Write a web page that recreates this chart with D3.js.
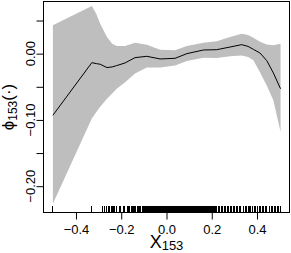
<!DOCTYPE html>
<html>
<head>
<meta charset="utf-8">
<script src="https://cdn.jsdelivr.net/npm/d3@7"></script>
<style>
  body { margin: 0; background: #fff; }
  text { font-family: "Liberation Sans", Arial, sans-serif; fill: #000; }
</style>
</head>
<body>
<div id="chart"></div>
<script>
var width = 291,
    height = 253;

// partial dependence estimate and its band
var xs    = [-0.502, -0.33, -0.31, -0.293, -0.263, -0.24, -0.22, -0.183, -0.139, -0.087, -0.028, 0.038, 0.09, 0.163, 0.222, 0.281, 0.332, 0.36, 0.384, 0.413, 0.443, 0.472, 0.504];
var fit   = [-0.093, -0.0136, -0.015, -0.016, -0.021, -0.020, -0.018, -0.014, -0.006, -0.004, -0.008, -0.007, 0.000, 0.0055, 0.006, 0.010, 0.0136, 0.011, 0.0065, 0.001, -0.0105, -0.029, -0.053];
var upper = [0.0427, 0.072, 0.060, 0.045, 0.025, 0.015, 0.0115, 0.0115, 0.0166, 0.0136, 0.006, 0.005, 0.0115, 0.0166, 0.0186, 0.025, 0.030, 0.028, 0.024, 0.018, 0.014, 0.0125, 0.015];
var lower = [-0.2266, -0.098, -0.088, -0.080, -0.068, -0.060, -0.053, -0.043, -0.030, -0.021, -0.021, -0.018, -0.011, -0.006, -0.0066, -0.004, -0.0026, -0.005, -0.010, -0.028, -0.048, -0.0705, -0.118];

// observed values of X153 (rug)
var rugX = [-0.504, -0.333, -0.283, -0.278, -0.268, -0.259, -0.253, -0.245, -0.241, -0.236, -0.231, -0.222, -0.212, -0.205, -0.193, -0.186, -0.173, -0.168, -0.164,
  -0.158, -0.153, -0.149, -0.143, -0.138, -0.131, -0.127, -0.121, -0.116, -0.110, -0.104, -0.099, -0.096, -0.093, -0.090, -0.088, -0.085, -0.082, -0.079, -0.077,
  -0.074, -0.071, -0.068, -0.066, -0.063, -0.060, -0.057, -0.055, -0.052, -0.049, -0.046, -0.044, -0.041, -0.038, -0.035, -0.033, -0.030, -0.027, -0.024,
  -0.021, -0.018, -0.016, -0.013, -0.011, -0.008, -0.005, -0.002, 0.000, 0.002, 0.004, 0.007, 0.009, 0.011, 0.013, 0.016, 0.018, 0.020, 0.022, 0.025, 0.027,
  0.029, 0.031, 0.034, 0.036, 0.038, 0.040, 0.043, 0.045, 0.047, 0.049, 0.052, 0.054, 0.056, 0.058, 0.061, 0.063, 0.065, 0.067, 0.070, 0.072, 0.074, 0.076,
  0.079, 0.081, 0.083, 0.085, 0.088, 0.090, 0.092, 0.094, 0.097, 0.099, 0.101, 0.103, 0.106, 0.108, 0.110, 0.112, 0.115, 0.117, 0.119, 0.121, 0.124, 0.126,
  0.129, 0.131, 0.134, 0.136, 0.139, 0.141, 0.144, 0.147, 0.150, 0.152, 0.155, 0.158, 0.161, 0.164, 0.167, 0.170, 0.173, 0.176, 0.179, 0.182, 0.185, 0.188,
  0.191, 0.195, 0.198, 0.201, 0.204, 0.207, 0.211, 0.214, 0.217, 0.220, 0.227, 0.233, 0.240, 0.247, 0.253, 0.260, 0.266, 0.273, 0.280, 0.287, 0.293,
  0.300, 0.306, 0.313, 0.319, 0.325, 0.339, 0.345, 0.352, 0.358, 0.365, 0.371, 0.378, 0.385, 0.391, 0.398, 0.408, 0.414, 0.421, 0.427, 0.434, 0.440,
  0.453, 0.460, 0.466, 0.473, 0.479, 0.487, 0.494, 0.500];

var xTicks = [-0.4, -0.2, 0.0, 0.2, 0.4];
var yTicks = [-0.20, -0.15, -0.10, -0.05, 0.00, 0.05];
var yLabeled = [-0.20, -0.10, 0.00];

var pLeft = 43.5, pRight = 289.5, pTop = 1.5, pBottom = 212.5;

var x = d3.scaleLinear().domain([-0.5435, 0.5435]).range([pLeft, pRight]);
var y = d3.scaleLinear().domain([-0.2397, 0.0787]).range([pBottom, pTop]);

var svg = d3.select("#chart").append("svg")
  .attr("width", width)
  .attr("height", height);

var pts = xs.map(function(d, i) { return {x: d, f: fit[i], u: upper[i], l: lower[i]}; });

var area = d3.area()
  .x(function(d) { return x(d.x); })
  .y0(function(d) { return y(d.l); })
  .y1(function(d) { return y(d.u); });

svg.append("path")
  .datum(pts)
  .attr("fill", "#bebebe")
  .attr("d", area);

var line = d3.line()
  .x(function(d) { return x(d.x); })
  .y(function(d) { return y(d.f); });

svg.append("path")
  .datum(pts)
  .attr("fill", "none")
  .attr("stroke", "#000")
  .attr("stroke-width", 1)
  .attr("d", line);

// rug
svg.append("g").selectAll("line")
  .data(rugX)
  .enter().append("line")
  .attr("x1", function(d) { return Math.round(x(d)) + 0.5; })
  .attr("x2", function(d) { return Math.round(x(d)) + 0.5; })
  .attr("y1", pBottom)
  .attr("y2", pBottom - 6.5)
  .attr("stroke", "#000")
  .attr("stroke-width", 1);

// box
svg.append("rect")
  .attr("x", pLeft).attr("y", pTop)
  .attr("width", pRight - pLeft).attr("height", pBottom - pTop)
  .attr("fill", "none")
  .attr("stroke", "#000");

// x axis
var xAxis = svg.append("g")
  .attr("transform", "translate(0," + pBottom + ")")
  .call(d3.axisBottom(x).tickValues(xTicks).tickSize(7).tickSizeOuter(0)
    .tickFormat(function(d) { return d3.format(".1f")(d).replace("-", "\u2212"); }));
xAxis.select(".domain").attr("d", "M" + x(-0.4) + ",0H" + x(0.4));
xAxis.selectAll("text").attr("font-size", "13px").attr("y", 12).attr("dy", "0.71em")
  .style("font-family", "'Liberation Sans', Arial, sans-serif");

// y axis
var yAxis = svg.append("g")
  .attr("transform", "translate(" + pLeft + ",0)")
  .call(d3.axisLeft(y).tickValues(yTicks).tickSize(7).tickSizeOuter(0).tickFormat(""));
yAxis.select(".domain").remove();

svg.append("g").selectAll("text")
  .data(yLabeled)
  .enter().append("text")
  .attr("transform", function(d) { return "translate(35," + y(d) + ") rotate(-90)"; })
  .attr("text-anchor", "middle")
  .attr("font-size", "13px")
  .text(function(d) { return d3.format(".2f")(d).replace("-", "\u2212"); });

// axis titles
var xt = svg.append("text")
  .attr("x", (pLeft + pRight) / 2)
  .attr("y", 247.5)
  .attr("text-anchor", "middle")
  .attr("font-size", "18px");
xt.append("tspan").text("X");
xt.append("tspan").attr("font-size", "13px").attr("dy", 2.5).text("153");

var yt = svg.append("text")
  .attr("transform", "translate(14," + ((pTop + pBottom) / 2) + ") rotate(-90)")
  .attr("text-anchor", "middle")
  .attr("font-size", "17px");
yt.append("tspan").text("\u03d5");
yt.append("tspan").attr("font-size", "12px").attr("dy", 3).text("153");
yt.append("tspan").attr("dy", -3).text("(\u00b7)");
</script>
</body>
</html>
